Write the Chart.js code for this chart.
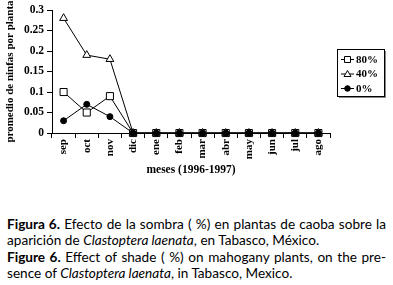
<!DOCTYPE html>
<html>
<head>
<meta charset="utf-8">
<script src="https://cdn.jsdelivr.net/npm/chart.js@4"></script>
<style>
  body { margin: 0; background: #fff; width: 393px; height: 285px; position: relative; overflow: hidden; }
  .chart-box { position: absolute; left: 0; top: 0; width: 393px; height: 177px; }
  .caption { position: absolute; left: 7px; top: 216px; width: 379px; font-family: "Lato", sans-serif; font-size: 13.6px; line-height: 16.4px; color: #000; }
  .caption div { white-space: nowrap; }
  .caption .full { text-align: justify; text-align-last: justify; white-space: normal; }
</style>
</head>
<body>
<div class="chart-box"><canvas id="chart"></canvas></div>
<div class="caption">
  <div class="full"><b>Figura 6.</b> Efecto de la sombra ( %) en plantas de caoba sobre la</div>
  <div>aparición de <i>Clastoptera laenata</i>, en Tabasco, México.</div>
  <div class="full"><b>Figure 6.</b> Effect of shade ( %) on mahogany plants, on the pre-</div>
  <div>sence of <i>Clastoptera laenata</i>, in Tabasco, Mexico.</div>
</div>
<script>
const months = ["sep", "oct", "nov", "dic", "ene", "feb", "mar", "abr", "may", "jun", "jul", "ago"];
const shade80 = [0.10, 0.05, 0.09, 0, 0, 0, 0, 0, 0, 0, 0, 0];
const shade40 = [0.28, 0.19, 0.18, 0, 0, 0, 0, 0, 0, 0, 0, 0];
const shade0 = [0.03, 0.07, 0.04, 0, 0, 0, 0, 0, 0, 0, 0, 0];
const seriesNames = ["80%", "40%", "0%"];
const yTicks = [0, 0.05, 0.1, 0.15, 0.2, 0.25, 0.3];

const serif = "'Liberation Serif', 'Times New Roman', serif";
const axisFont = { family: serif, size: 11.5, weight: "bold" };

// small boxed legend to the right, like the excel one
const boxLegend = {
    id: "boxLegend",
    afterDraw(chart) {
        const ctx = chart.ctx;
        const area = chart.chartArea;
        const x = area.right + 7, y = 49, w = 47, h = 47;
        ctx.save();
        ctx.fillStyle = "#888";
        ctx.fillRect(x + 2, y + 2, w, h);
        ctx.fillStyle = "#fff";
        ctx.fillRect(x, y, w, h);
        ctx.strokeStyle = "#000";
        ctx.lineWidth = 1;
        ctx.strokeRect(x + 0.5, y + 0.5, w, h);
        chart.data.datasets.forEach(function (ds, i) {
            const ly = y + 10 + i * 14.5;
            ctx.beginPath();
            ctx.moveTo(x + 4, ly + 0.5);
            ctx.lineTo(x + 17, ly + 0.5);
            ctx.strokeStyle = "#000";
            ctx.stroke();
            drawMarker(ctx, ds.pointStyle, x + 10.5, ly + 0.5, ds.backgroundColor);
            ctx.fillStyle = "#000";
            ctx.font = "bold 11px " + serif;
            ctx.textBaseline = "middle";
            ctx.fillText(ds.label, x + 19, ly + 1);
        });
        ctx.restore();
    }
};

function drawMarker(ctx, style, cx, cy, fill) {
    ctx.beginPath();
    if (style === "rect") {
        ctx.rect(cx - 3, cy - 3, 6, 6);
    } else if (style === "triangle") {
        ctx.moveTo(cx, cy - 3.5);
        ctx.lineTo(cx + 3.5, cy + 2.5);
        ctx.lineTo(cx - 3.5, cy + 2.5);
        ctx.closePath();
    } else {
        ctx.arc(cx, cy, 2.8, 0, Math.PI * 2);
    }
    ctx.fillStyle = fill;
    ctx.fill();
    ctx.strokeStyle = "#000";
    ctx.stroke();
}

const ctx = document.getElementById("chart");

new Chart(ctx, {
    type: "line",
    data: {
        labels: months,
        datasets: [
            {
                label: seriesNames[0],
                data: shade80,
                borderColor: "#000",
                borderWidth: 1,
                backgroundColor: "#fff",
                pointStyle: "rect",
                pointRadius: 5,
                pointBorderWidth: 1,
                clip: false,
                order: 3
            },
            {
                label: seriesNames[1],
                data: shade40,
                borderColor: "#000",
                borderWidth: 1,
                backgroundColor: "#fff",
                pointStyle: "triangle",
                pointRadius: 4.5,
                pointBorderWidth: 1,
                clip: false,
                order: 2
            },
            {
                label: seriesNames[2],
                data: shade0,
                borderColor: "#000",
                borderWidth: 1,
                backgroundColor: "#000",
                pointStyle: "circle",
                pointRadius: 3,
                pointBorderWidth: 1,
                clip: false,
                order: 1
            }
        ]
    },
    options: {
        responsive: true,
        maintainAspectRatio: false,
        animation: false,
        layout: { padding: { top: 10, right: 63, left: 0, bottom: 0 } },
        plugins: {
            legend: { display: false },
            tooltip: { enabled: false }
        },
        scales: {
            x: {
                offset: true,
                grid: { offset: true, drawOnChartArea: false, color: "#000", tickLength: 5 },
                border: { color: "#000", width: 1 },
                ticks: { color: "#000", font: { family: serif, size: 11, weight: "bold" }, minRotation: 90, maxRotation: 90, padding: 1, autoSkip: false },
                title: { display: true, text: "meses (1996-1997)", color: "#000", font: { family: serif, size: 11.5, weight: "bold" }, padding: { top: 3, bottom: 0 } }
            },
            y: {
                min: 0,
                max: 0.3,
                afterBuildTicks: function (axis) {
                    axis.ticks = yTicks.map(function (v) { return { value: v }; });
                },
                afterFit: function (axis) { axis.width = 52; },
                grid: { drawOnChartArea: false, color: "#000", tickLength: 5 },
                border: { color: "#000", width: 1 },
                ticks: {
                    color: "#000",
                    font: axisFont,
                    padding: 3,
                    callback: function (v) { return String(Math.round(v * 100) / 100); }
                },
                title: { display: true, text: "promedio de ninfas por planta", color: "#000", font: { family: serif, size: 11, weight: "bold" }, padding: { bottom: 4 } }
            }
        }
    },
    plugins: [boxLegend]
});
</script>
</body>
</html>
